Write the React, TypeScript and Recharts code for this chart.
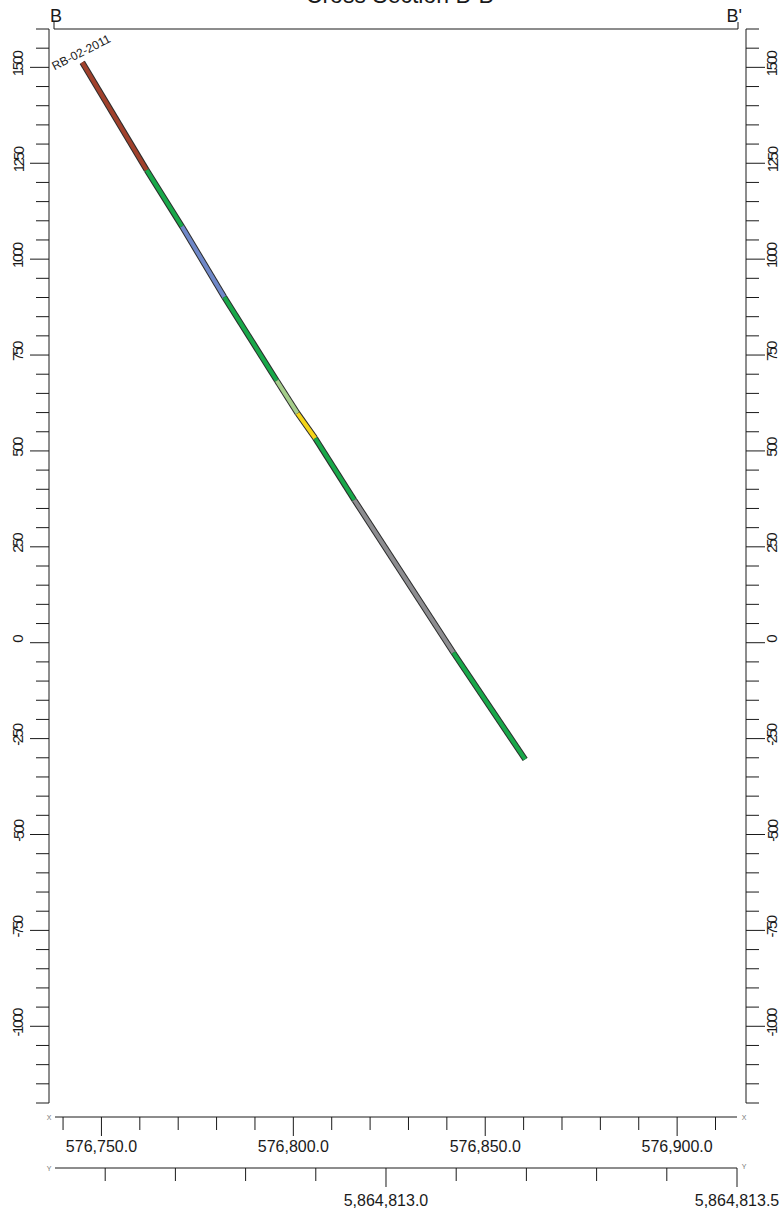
import React from 'react';
import { ComposedChart, Line, XAxis, YAxis, LabelList } from 'recharts';

const chartTitle = "Cross Section B-B'";
const sectionEnds = ['B', "B'"];
const holeId = 'RB-02-2011';

// trace stations down the hole (easting, northing, elevation) and the unit of each interval between them
const stationEasting = [576745.0, 576761.8, 576771.0, 576782.0, 576795.7, 576801.1, 576805.7, 576815.9, 576841.7, 576860.4];
const stationNorthing = [
    5864812.567, 5864812.659, 5864812.709, 5864812.769, 5864812.844,
    5864812.874, 5864812.899, 5864812.955, 5864813.096, 5864813.198,
];
const stationElevation = [1513, 1232, 1085, 901, 683, 598, 533, 372, -26, -304];
const intervalUnit = ['brown', 'green', 'blue', 'green', 'pale', 'yellow', 'green', 'grey', 'green'];

// section line B - B' (coordinates at each end)
const sectionEasting = [576737.9, 576915.6];
const sectionNorthing = [5864812.5285, 5864813.5];
const elevationRange = [-1200, 1600];

const elevationTicks = [
    -1200, -1150, -1100, -1050, -1000, -950, -900, -850, -800, -750, -700, -650, -600, -550, -500, -450, -400, -350,
    -300, -250, -200, -150, -100, -50, 0, 50, 100, 150, 200, 250, 300, 350, 400, 450, 500, 550, 600, 650, 700, 750,
    800, 850, 900, 950, 1000, 1050, 1100, 1150, 1200, 1250, 1300, 1350, 1400, 1450, 1500, 1550, 1600,
];
const elevationLabels = [-1000, -750, -500, -250, 0, 250, 500, 750, 1000, 1250, 1500];
const eastingTicks = [
    576740, 576750, 576760, 576770, 576780, 576790, 576800, 576810, 576820,
    576830, 576840, 576850, 576860, 576870, 576880, 576890, 576900, 576910,
];
const eastingLabels = [576750, 576800, 576850, 576900];
const northingTicks = [
    5864812.6, 5864812.7, 5864812.8, 5864812.9, 5864813.0, 5864813.1, 5864813.2, 5864813.3, 5864813.4, 5864813.5,
];
const northingLabels = [5864813.0, 5864813.5];

const UNIT_COLORS: Record<string, string> = {
    brown: '#a0412c',
    green: '#19a84a',
    blue: '#6f88c8',
    pale: '#a5cd8b',
    yellow: '#f4d41a',
    grey: '#8d8d90',
};

const FONT = '"Liberation Sans", Arial, sans-serif';
const INK = '#1a1a1a';

const fmt = (v: number) => v.toLocaleString('en-US', { minimumFractionDigits: 1, maximumFractionDigits: 1 });
const isLabel = (list: number[], v: number) => list.some((l) => Math.abs(l - v) < 1e-6);

function ElevationTick(props: any) {
    const { x, y, payload, side } = props;
    const major = isLabel(elevationLabels, payload.value);
    const dir = side === 'left' ? -1 : 1;
    const len = major ? 19 : 13;
    const lx = side === 'left' ? x - 31 : x + 26;
    const ly = y - 3;
    return (
        <g>
            <line x1={x} y1={y} x2={x + dir * len} y2={y} stroke={INK} strokeWidth={1} />
            {major && (
                <text
                    x={lx}
                    y={ly}
                    transform={`rotate(-90 ${lx} ${ly})`}
                    textAnchor="middle"
                    dominantBaseline="central"
                    fontFamily={FONT}
                    fontSize={15}
                    letterSpacing={-2.4}
                    fill={INK}
                >
                    {payload.value}
                </text>
            )}
        </g>
    );
}

function makeScaleTick(labels: number[], labelDy: number) {
    return function ScaleTick(props: any) {
        const { x, y, payload } = props;
        const major = isLabel(labels, payload.value);
        return (
            <g>
                <line x1={x} y1={y} x2={x} y2={y + (major ? 19 : 13)} stroke={INK} strokeWidth={1} />
                {major && (
                    <text x={x} y={y + labelDy} textAnchor="middle" fontFamily={FONT} fontSize={16} fill={INK}>
                        {fmt(payload.value)}
                    </text>
                )}
            </g>
        );
    };
}
const EastingTick = makeScaleTick(eastingLabels, 35);
const NorthingTick = makeScaleTick(northingLabels, 38);

function SectionEndTick(props: any) {
    const { x, y, index } = props;
    const first = index === 0;
    return (
        <g>
            <line x1={x} y1={y} x2={x} y2={y - 7} stroke={INK} strokeWidth={1} />
            <text
                x={first ? x - 4 : x + 4}
                y={y - 7}
                textAnchor={first ? 'start' : 'end'}
                fontFamily={FONT}
                fontSize={18}
                fill={INK}
            >
                {sectionEnds[index]}
            </text>
        </g>
    );
}

// axis line trimmed to the padded range, plus the small end letters
const scaleLine = (padL: number, padR: number, atBottom: boolean, letter?: string, lift = 0) => (p: any) => {
    const vb = p.viewBox;
    if (!vb) return null;
    const ly = atBottom ? vb.y + vb.height : vb.y;
    const x1 = vb.x + padL;
    const x2 = vb.x + vb.width - padR;
    return (
        <g>
            <line x1={x1} y1={ly} x2={x2} y2={ly} stroke={INK} strokeWidth={1} />
            {letter && (
                <>
                    <text x={vb.x} y={ly} textAnchor="middle" dominantBaseline="central" fontFamily={FONT} fontSize={7} fill="#777">
                        {letter}
                    </text>
                    <text x={vb.x + vb.width - 2} y={ly - lift} textAnchor="middle" dominantBaseline="central" fontFamily={FONT} fontSize={7} fill="#777">
                        {letter}
                    </text>
                </>
            )}
        </g>
    );
};

const renderHoleLabel = (p: any) => {
    if (p.index !== 0) return null;
    const cx = Number(p.x) - 1;
    const cy = Number(p.y) - 10;
    return (
        <text
            x={cx}
            y={cy}
            transform={`rotate(-27 ${cx} ${cy})`}
            textAnchor="middle"
            dominantBaseline="central"
            fontFamily={FONT}
            fontSize={12}
            fill={INK}
        >
            {holeId}
        </text>
    );
};

export default function App() {
    const stations = stationEasting.map((e, i) => ({ e, n: stationNorthing[i], z: stationElevation[i] }));
    const segments = intervalUnit.map((unit, i) => ({
        unit,
        data: [stations[i], stations[i + 1]],
    }));

    return (
        <div style={{ position: 'absolute', left: 0, top: 0, width: 782, height: 1215, background: '#fff', fontFamily: FONT }}>
            <div
                style={{
                    position: 'absolute',
                    top: -16,
                    left: 0,
                    width: 804,
                    textAlign: 'center',
                    fontSize: 23,
                    lineHeight: '23px',
                    color: INK,
                }}
            >
                {chartTitle}
            </div>
            <ComposedChart width={782} height={1215} data={stations} margin={{ top: 0, right: 0, bottom: 0, left: 0 }}>
                <XAxis
                    xAxisId="a_top"
                    orientation="top"
                    dataKey="e"
                    type="number"
                    domain={sectionEasting}
                    ticks={sectionEasting}
                    interval={0}
                    height={29}
                    padding={{ left: 5, right: 8 }}
                    tickSize={0}
                    tickMargin={0}
                    tickLine={false}
                    axisLine={false}
                    tick={<SectionEndTick />}
                    label={{ content: scaleLine(5, 8, true) }}
                />
                <XAxis
                    xAxisId="b_gap"
                    type="number"
                    domain={[0, 1]}
                    height={14}
                    tick={false}
                    tickLine={false}
                    axisLine={false}
                />
                <XAxis
                    xAxisId="c_east"
                    dataKey="e"
                    type="number"
                    domain={sectionEasting}
                    ticks={eastingTicks}
                    interval={0}
                    height={51}
                    padding={{ left: 6, right: 9 }}
                    tickSize={0}
                    tickMargin={0}
                    tickLine={false}
                    axisLine={false}
                    tick={<EastingTick />}
                    label={{ content: scaleLine(6, 9, false, 'X', 0) }}
                />
                <XAxis
                    xAxisId="d_north"
                    dataKey="n"
                    type="number"
                    domain={sectionNorthing}
                    ticks={northingTicks}
                    interval={0}
                    height={47}
                    padding={{ left: 6, right: 9 }}
                    tickSize={0}
                    tickMargin={0}
                    tickLine={false}
                    axisLine={false}
                    tick={<NorthingTick />}
                    label={{ content: scaleLine(6, 9, false, 'Y', 2) }}
                />
                <YAxis
                    yAxisId="z"
                    dataKey="z"
                    type="number"
                    domain={elevationRange}
                    ticks={elevationTicks}
                    interval={0}
                    width={49}
                    tickSize={0}
                    tickMargin={0}
                    tickLine={false}
                    axisLine={{ stroke: INK }}
                    tick={<ElevationTick side="left" />}
                />
                <YAxis
                    yAxisId="zr"
                    dataKey="z"
                    orientation="right"
                    type="number"
                    domain={elevationRange}
                    ticks={elevationTicks}
                    interval={0}
                    width={36}
                    tickSize={0}
                    tickMargin={0}
                    tickLine={false}
                    axisLine={{ stroke: INK }}
                    tick={<ElevationTick side="right" />}
                />
                {segments.map((s, i) => [
                    <Line
                        key={`outline-${i}`}
                        data={s.data}
                        dataKey="z"
                        xAxisId="c_east"
                        yAxisId="z"
                        type="linear"
                        stroke="#2a2a2a"
                        strokeWidth={6}
                        dot={false}
                        activeDot={false}
                        isAnimationActive={false}
                    >
                        {i === 0 && <LabelList content={renderHoleLabel} />}
                    </Line>,
                    <Line
                        key={`fill-${i}`}
                        data={s.data}
                        dataKey="z"
                        xAxisId="c_east"
                        yAxisId="z"
                        type="linear"
                        stroke={UNIT_COLORS[s.unit]}
                        strokeWidth={4}
                        dot={false}
                        activeDot={false}
                        isAnimationActive={false}
                    />,
                ])}
            </ComposedChart>
        </div>
    );
}
